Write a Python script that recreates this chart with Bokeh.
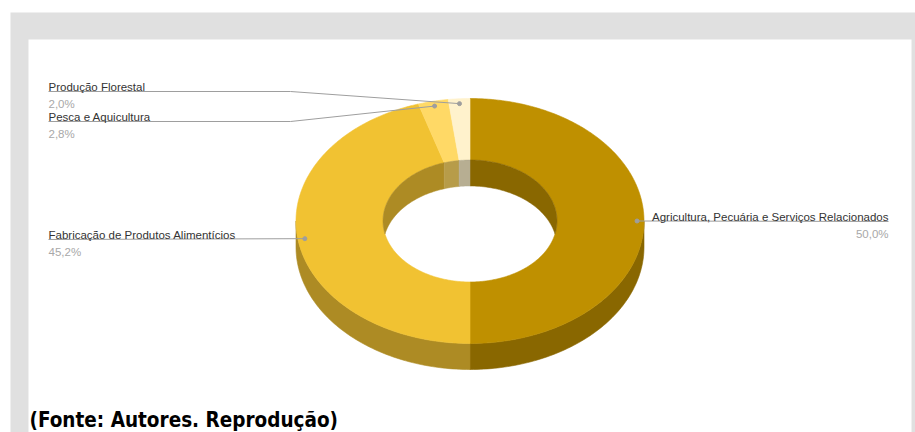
import numpy as np
from bokeh.plotting import figure
from bokeh.models import Range1d
from bokeh.core.properties import value
from bokeh.embed import file_html
from bokeh.resources import INLINE

# ---- data ----
categories = ["Agricultura, Pecuária e Serviços Relacionados",
              "Fabricação de Produtos Alimentícios",
              "Pesca e Aquicultura",
              "Produção Florestal"]
shares = [50.0, 45.2, 2.8, 2.0]
pct_labels = ["50,0%", "45,2%", "2,8%", "2,0%"]
colors = ["#bf9000", "#f1c232", "#ffd966", "#fff2cc"]
caption = "(Fonte: Autores. Reprodução)"

# ---- layout ----
W, H = 915, 432
cx, cy = 469.5, 220.5
rxo, ryo = 174.0, 122.5
rxi, ryi = 87.0, 61.0
depth = 26.0
DOT_R = 0.96

label_side = ["right", "left", "left", "left"]
label_line_y = [221, 239, 121, 91]
label_x_left = 48
label_x_right = 888
elbow_x = [None, None, 290, 290]


def darken(hexc, f=0.72):
    r, g, b = int(hexc[1:3], 16), int(hexc[3:5], 16), int(hexc[5:7], 16)
    return "#%02x%02x%02x" % (int(r * f), int(g * f), int(b * f))


def ell(ts, rx, ry, dy=0.0):
    t = np.radians(ts)
    return cx + rx * np.sin(t), cy - ry * np.cos(t) + dy


p = figure(width=W, height=H, output_backend="svg", toolbar_location=None,
           x_range=Range1d(0, W), y_range=Range1d(H, 0),
           x_axis_location=None, y_axis_location=None, min_border=0)
p.grid.visible = False
p.outline_line_color = None
p.background_fill_color = "white"
p.border_fill_color = "white"

# page frame
p.quad(left=[10], right=[W], top=[12], bottom=[H], color="#e0e0e0", line_color=None)
p.quad(left=[28], right=[911], top=[39], bottom=[H], color="white", line_color=None)

vals = np.array(shares, dtype=float)
ends = np.cumsum(vals) / vals.sum() * 360.0
starts = np.concatenate([[0.0], ends[:-1]])

# outer side walls (front half: 90..270)
for a0, a1, c in zip(starts, ends, colors):
    lo, hi = max(a0, 90.0), min(a1, 270.0)
    if hi <= lo:
        continue
    ts = np.linspace(lo, hi, 80)
    x, y = ell(ts, rxo, ryo)
    xb, yb = ell(ts[::-1], rxo, ryo, depth)
    dc = darken(c)
    p.patch(np.concatenate([x, xb]), np.concatenate([y, yb]),
            fill_color=dc, line_color=dc, line_width=0.6)

# top faces
for a0, a1, c in zip(starts, ends, colors):
    ts = np.linspace(a0, a1, max(8, int((a1 - a0) * 1.5)))
    xo, yo = ell(ts, rxo, ryo)
    xi, yi = ell(ts[::-1], rxi, ryi)
    p.patch(np.concatenate([xo, xi]), np.concatenate([yo, yi]),
            fill_color=c, line_color=c, line_width=0.6)

# inner walls (back half of the hole: 270..450)
for a0, a1, c in zip(starts, ends, colors):
    for lo_b, hi_b in [(270.0, 360.0), (0.0, 90.0)]:
        lo, hi = max(a0, lo_b), min(a1, hi_b)
        if hi <= lo:
            continue
        ts = np.linspace(lo, hi, 60)
        x, y = ell(ts, rxi, ryi)
        t = np.radians(ts)
        ylow = np.minimum(y + depth, cy + ryi * np.abs(np.cos(t)))
        dc = darken(c)
        p.patch(np.concatenate([x, x[::-1]]), np.concatenate([y, ylow[::-1]]),
                fill_color=dc, line_color=dc, line_width=0.5)

# leader lines and dots
mids = (starts + ends) / 2.0
dx, dy = ell(mids, rxo * DOT_R, ryo * DOT_R)
xs, ys = [], []
for i in range(len(categories)):
    ly = label_line_y[i]
    if label_side[i] == "right":
        xs.append([dx[i], label_x_right]); ys.append([dy[i], ly])
    elif elbow_x[i] is None:
        xs.append([label_x_left, dx[i]]); ys.append([ly, dy[i]])
    else:
        xs.append([label_x_left, elbow_x[i], dx[i]]); ys.append([ly, ly, dy[i]])
p.multi_line(xs, ys, line_color="#9e9e9e", line_width=1)
p.scatter(dx, dy, size=4, color="#9e9e9e")

# labels
for i in range(len(categories)):
    ly = label_line_y[i]
    if label_side[i] == "right":
        tx, al = label_x_right, "right"
    else:
        tx, al = label_x_left, "left"
    p.text([tx], [ly - 4.5], text=[categories[i]], text_font=value("Liberation Sans"),
           text_font_size="11.5px", text_color="#333333", text_align=al,
           text_baseline="alphabetic")
    p.text([tx], [ly + 12.5], text=[pct_labels[i]], text_font=value("Liberation Sans"),
           text_font_size="11.5px", text_color="#a8a8a8", text_align=al,
           text_baseline="alphabetic")

p.text([29], [419], text=[caption], text_font=value("DejaVu Sans Condensed"),
       text_font_style="bold", text_font_size="20.5px", text_color="#000000",
       text_align="left", text_baseline="alphabetic")

open("out.html", "w").write(file_html(p, INLINE))
